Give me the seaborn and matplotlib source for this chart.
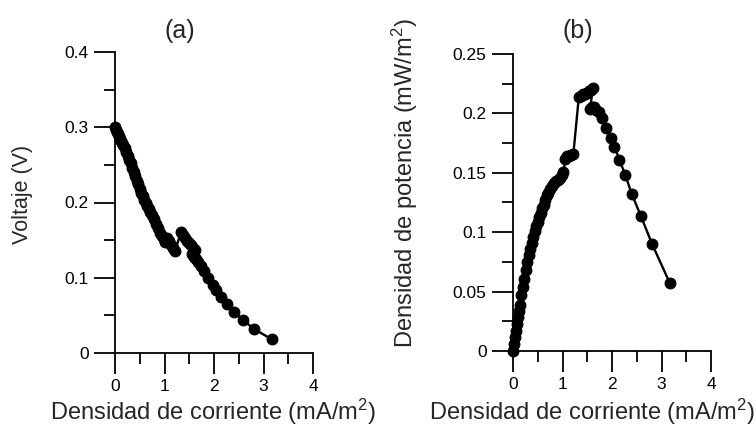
import numpy as np
import pandas as pd
import matplotlib
matplotlib.use("Agg")
import matplotlib.pyplot as plt
import seaborn as sns
from matplotlib.ticker import MultipleLocator, FormatStrFormatter

# ---- data ----
current = [0.00, 0.02, 0.04, 0.06, 0.08, 0.10, 0.12, 0.14, 0.17, 0.20,
           0.23, 0.26, 0.29, 0.32, 0.35, 0.38, 0.41, 0.44, 0.47, 0.50,
           0.53, 0.56, 0.59, 0.62, 0.65, 0.68, 0.71, 0.74, 0.78, 0.82,
           0.86, 0.90, 0.94, 0.98, 1.02,
           1.06, 1.10, 1.14, 1.18, 1.22,
           1.33, 1.37, 1.41, 1.45, 1.49, 1.53, 1.57, 1.61,
           1.56, 1.60, 1.64, 1.68, 1.73, 1.80, 1.88, 1.97, 2.05, 2.15,
           2.27, 2.40, 2.58, 2.81, 3.17]

voltage = [0.300, 0.297, 0.294, 0.291, 0.288, 0.285, 0.282, 0.279, 0.276, 0.272,
           0.267, 0.262, 0.257, 0.252, 0.246, 0.240, 0.235, 0.229, 0.224, 0.218,
           0.213, 0.208, 0.203, 0.199, 0.196, 0.192, 0.188, 0.184, 0.178, 0.172,
           0.166, 0.160, 0.155, 0.151, 0.148,
           0.153, 0.149, 0.144, 0.140, 0.136,
           0.161, 0.157, 0.153, 0.149, 0.146, 0.143, 0.140, 0.137,
           0.131, 0.128, 0.125, 0.121, 0.116, 0.109, 0.100, 0.091, 0.084, 0.075,
           0.065, 0.055, 0.044, 0.032, 0.018]

power = [0.000, 0.006, 0.012, 0.017, 0.023, 0.029, 0.034, 0.039, 0.047, 0.054,
         0.061, 0.068, 0.075, 0.081, 0.086, 0.091, 0.096, 0.101, 0.105, 0.109,
         0.113, 0.116, 0.120, 0.123, 0.127, 0.131, 0.133, 0.136, 0.139, 0.141,
         0.143, 0.144, 0.146, 0.148, 0.151,
         0.162, 0.164, 0.164, 0.165, 0.166,
         0.214, 0.215, 0.216, 0.216, 0.217, 0.219, 0.220, 0.221,
         0.204, 0.205, 0.205, 0.203, 0.201, 0.196, 0.188, 0.179, 0.172, 0.161,
         0.148, 0.132, 0.114, 0.090, 0.057]

xticks = [0, 1, 2, 3, 4]
yticks_a = [0, 0.1, 0.2, 0.3, 0.4]
yticks_b = [0, 0.05, 0.1, 0.15, 0.2, 0.25]

df = pd.DataFrame({"I": current, "V": voltage, "P": power})

sns.set_style("ticks")
plt.rcParams["font.family"] = ["Liberation Sans", "DejaVu Sans"]
plt.rcParams["mathtext.fontset"] = "custom"
plt.rcParams["mathtext.rm"] = "Liberation Sans"
plt.rcParams["mathtext.it"] = "Liberation Sans"
plt.rcParams["mathtext.default"] = "regular"

W, H = 756, 429
fig = plt.figure(figsize=(W / 100, H / 100), dpi=100)
fig.patch.set_facecolor("white")

ax_a = fig.add_axes([115 / W, 1 - 353 / H, 198 / W, 301 / H])
ax_b = fig.add_axes([513 / W, 1 - 351 / H, 198 / W, 297 / H])

line_kw = dict(color="black", linewidth=1.7, marker="o", markersize=7.8,
               markeredgecolor="black", markerfacecolor="black",
               sort=False, estimator=None, clip_on=False)

sns.lineplot(data=df, x="I", y="V", ax=ax_a, **line_kw)
sns.lineplot(data=df, x="I", y="P", ax=ax_b, **line_kw)

for ax, yt, ymin_step in [(ax_a, yticks_a, 0.05), (ax_b, yticks_b, 0.025)]:
    ax.set_xlim(0, 4)
    ax.set_ylim(yt[0], yt[-1])
    ax.set_xticks(xticks)
    ax.set_yticks(yt)
    ax.xaxis.set_minor_locator(MultipleLocator(0.5))
    ax.yaxis.set_minor_locator(MultipleLocator(ymin_step))
    ax.yaxis.set_major_formatter(FormatStrFormatter("%g"))
    ax.xaxis.set_major_formatter(FormatStrFormatter("%g"))
    for s in ["top", "right"]:
        ax.spines[s].set_visible(False)
    for s in ["left", "bottom"]:
        ax.spines[s].set_linewidth(1.3)
        ax.spines[s].set_color("black")
    ax.tick_params(which="major", direction="out", length=15, width=1.3,
                   labelsize=12.5, pad=4, colors="black")
    ax.tick_params(which="minor", direction="out", length=8, width=1.3, colors="black")
    ax.set_facecolor("white")

ax_a.set_xlabel("Densidad de corriente (mA/m$^{2}$)", fontsize=17, va="top")
ax_a.xaxis.set_label_coords(0.495, -0.146)
ax_a.set_ylabel("Voltaje (V)", fontsize=15.5)
ax_a.yaxis.set_label_coords(-0.414, 0.528)

ax_b.set_xlabel("Densidad de corriente (mA/m$^{2}$)", fontsize=17, va="top")
ax_b.xaxis.set_label_coords(0.40, -0.155)
ax_b.set_ylabel("Densidad de potencia (mW/m$^{2}$)", fontsize=17)
ax_b.yaxis.set_label_coords(-0.47, 0.566)

fig.text(180 / W, 1 - 31 / H, "(a)", fontsize=18, ha="center", va="center")
fig.text(578 / W, 1 - 31 / H, "(b)", fontsize=18, ha="center", va="center")

fig.savefig("out.png", dpi=100, facecolor="white")
